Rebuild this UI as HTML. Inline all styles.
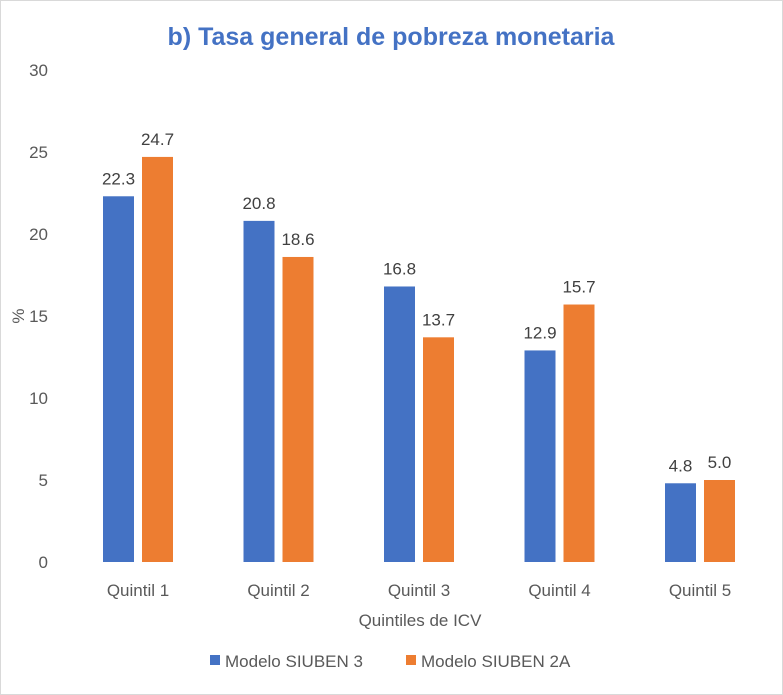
<!DOCTYPE html>
<html><head><meta charset="utf-8"><style>
body{margin:0;background:#fff}
svg{display:block;font-family:"Liberation Sans",Arial,sans-serif}
</style></head><body>
<svg id="c" width="783" height="695">
<rect x="0.5" y="0.5" width="782" height="694" fill="#fff" stroke="#d9d9d9"/>
<text x="391" y="45" text-anchor="middle" font-size="25" font-weight="bold" fill="#4472C4">b) Tasa general de pobreza monetaria</text>
<text transform="translate(24,316) rotate(-90)" text-anchor="middle" font-size="17" fill="#595959">%</text>
<text x="420" y="626" text-anchor="middle" font-size="17" fill="#595959">Quintiles de ICV</text>
<g id="g"></g>
<rect x="210" y="655" width="10" height="10" fill="#4472C4"/>
<text x="225" y="667" font-size="17" fill="#595959">Modelo SIUBEN 3</text>
<rect x="406" y="655" width="10" height="10" fill="#ED7D31"/>
<text x="421" y="667" font-size="17" fill="#595959">Modelo SIUBEN 2A</text>
</svg>
<script>
const categories=["Quintil 1","Quintil 2","Quintil 3","Quintil 4","Quintil 5"];
const siuben3=[22.3,20.8,16.8,12.9,4.8];
const siuben2a=[24.7,18.6,13.7,15.7,5.0];
const yTicks=[0,5,10,15,20,25,30];
const NS="http://www.w3.org/2000/svg";
const g=document.getElementById('g');
const y=v=>562-v*16.4;
const xc=i=>138+i*140.5;
function mk(t,a){const e=document.createElementNS(NS,t);for(const k in a)e.setAttribute(k,a[k]);g.appendChild(e);return e;}
yTicks.forEach(t=>{const e=mk('text',{x:48,y:y(t)+6,'text-anchor':'end','font-size':17,fill:'#595959'});e.textContent=t;

});
categories.forEach((c,i)=>{
const e=mk('text',{x:xc(i),y:596,'text-anchor':'middle','font-size':17,fill:'#595959'});e.textContent=c;


[[siuben3,'#4472C4',-35,'siuben-3'],[siuben2a,'#ED7D31',4,'siuben-2a']].forEach(([s,col,off,n])=>{
const v=s[i];
const r=mk('rect',{x:xc(i)+off,y:y(v),width:31,height:y(0)-y(v),fill:col});


const l=mk('text',{x:xc(i)+off+15.5,y:y(v)-12,'text-anchor':'middle','font-size':17,fill:'#404040'});
l.textContent=v.toFixed(1);


});
});
</script>
</body></html>
